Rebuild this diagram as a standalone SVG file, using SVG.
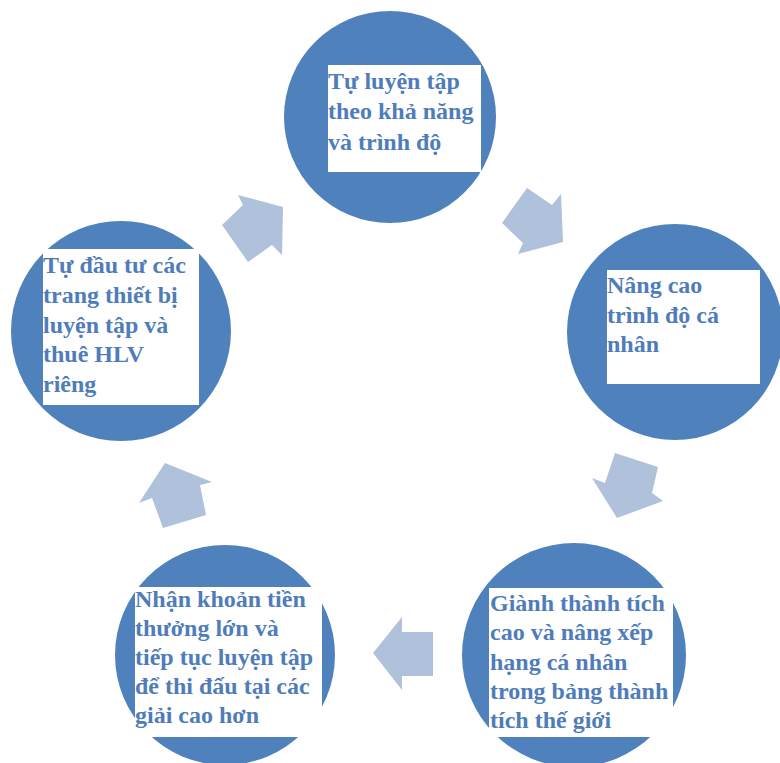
<svg xmlns="http://www.w3.org/2000/svg" width="780" height="763" viewBox="0 0 780 763">
<style>
.node circle{fill:#4F81BD;}
.box{fill:#FFFFFF;}
.t{font-family:"Liberation Serif","Times New Roman",serif;font-weight:bold;font-size:24px;fill:#4F7CBA;}
.arr{fill:#B0C1DC;}
</style>
<rect width="780" height="763" fill="#FFFFFF"/>
<g id="connectors">
<polygon class="arr" points="238,195 283,207 282,255 272,245 248,262 222,225 243,205"/>
<polygon class="arr" points="527,188 552,205 561,194 563,242 518,254 523,243 502,223"/>
<polygon class="arr" points="615,453 658,467 652,493 663,501 617,518 592,478 605,483"/>
<polygon class="arr" points="373,653 402,617 402,632 433,632 433,676 402,676 402,690"/>
<polygon class="arr" points="165,463 212,482 200,485 206,515 163,528 152,498 139,503"/>
</g>
<g id="n1" class="node">
<circle cx="390" cy="117" r="106"/>
<rect class="box" x="328" y="65" width="153" height="107"/>
<text class="t" x="328" y="89">Tự luyện tập</text>
<text class="t" x="328" y="119">theo khả năng</text>
<text class="t" x="328" y="150">và trình độ</text>
</g>
<g id="n2" class="node">
<circle cx="675" cy="332" r="108"/>
<rect class="box" x="607" y="270" width="153" height="114"/>
<text class="t" x="607" y="293">Nâng cao</text>
<text class="t" x="607" y="323">trình độ cá</text>
<text class="t" x="607" y="352">nhân</text>
</g>
<g id="n3" class="node">
<circle cx="574" cy="655" r="112"/>
<rect class="box" x="489" y="588" width="184" height="149"/>
<text class="t" x="490" y="611">Giành thành tích</text>
<text class="t" x="490" y="640">cao và nâng xếp</text>
<text class="t" x="490" y="670">hạng cá nhân</text>
<text class="t" x="490" y="699">trong bảng thành</text>
<text class="t" x="490" y="728">tích thế giới</text>
</g>
<g id="n4" class="node">
<circle cx="225" cy="655" r="110"/>
<rect class="box" x="135" y="587" width="187" height="150"/>
<text class="t" x="135" y="607">Nhận khoản tiền</text>
<text class="t" x="135" y="636">thưởng lớn và</text>
<text class="t" x="135" y="665">tiếp tục luyện tập</text>
<text class="t" x="135" y="694">để thi đấu tại các</text>
<text class="t" x="135" y="723">giải cao hơn</text>
</g>
<g id="n5" class="node">
<circle cx="121" cy="331" r="110"/>
<rect class="box" x="43" y="249" width="156" height="156"/>
<text class="t" x="43" y="273">Tự đầu tư các</text>
<text class="t" x="43" y="303">trang thiết bị</text>
<text class="t" x="43" y="333">luyện tập và</text>
<text class="t" x="43" y="362">thuê HLV</text>
<text class="t" x="43" y="392">riêng</text>
</g>
</svg>
